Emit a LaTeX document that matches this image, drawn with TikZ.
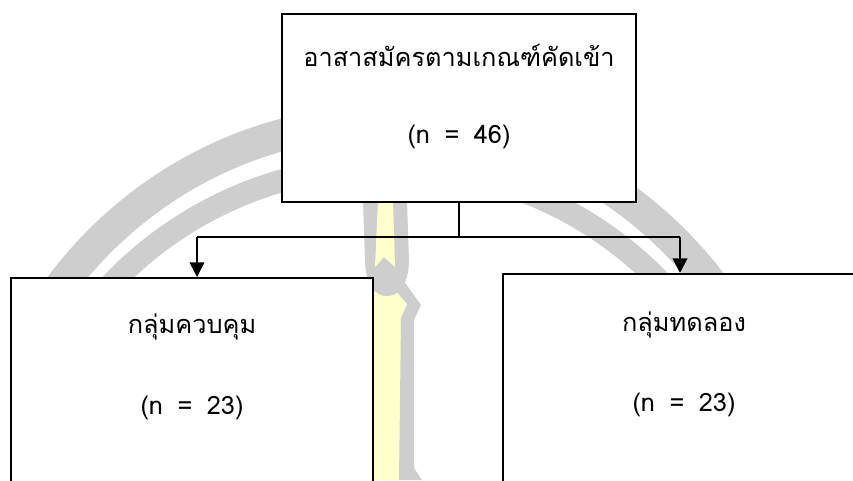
\documentclass[tikz,border=0pt]{standalone}
\usepackage{fontspec}
\setmainfont{Loma}[Script=Thai,WordSpace=1.7]
\usetikzlibrary{arrows.meta}
\definecolor{sealgrey}{RGB}{206,206,206}
\definecolor{torchyellow}{RGB}{255,255,204}

\begin{document}
\begin{tikzpicture}[x=0.75pt,y=0.75pt,yscale=-1,xscale=1,
  box/.style={draw=black,line width=1.5pt,fill=white,inner sep=0pt},
  link/.style={draw=black,line width=1.2pt},
  label/.style={font=\fontsize{19}{23}\selectfont,inner sep=0pt}]
	\clip (0,0) rectangle (853,480); %picture 853 x 480
	
	%seal in the background
	\begin{scope}
	\clip (0,0) rectangle (853,279);
	\draw [color=sealgrey,line width=24pt] (387,545) ellipse [x radius=412, y radius=424];
	\draw [color=sealgrey,line width=17pt] (387,545) ellipse [x radius=380, y radius=379];
	\end{scope}
	\fill [torchyellow] (373,285) -- (397,285) -- (404,302) -- (399,480) -- (373,480) -- cycle;
	\fill [sealgrey] (396,270) -- (421,305) -- (414,320) -- (414,468) -- (422,480) -- (399,480) -- (401,318) -- (407,304) -- (392,286) -- cycle;
	\fill [sealgrey] (363,200) -- (365,262) .. controls (366,285) and (375,296) .. (387,296) .. controls (399,296) and (408,285) .. (409,262) -- (407,200) -- cycle;
	\fill [torchyellow] (378,200) -- (375,267) -- (384,257) -- (395,267) -- (393,200) -- cycle;
	
	%boxes
	\node [box,minimum width=265.5pt,minimum height=141pt] (panel) at (459,108) {};
	\node [box,minimum width=271.5pt,minimum height=195pt] (ctrl) at (192,408) {};
	\node [box,minimum width=271.5pt,minimum height=195pt] (expt) at (684,404) {};
	
	%connectors
	\coordinate (split) at (459,237);
	\coordinate (armL) at (197,237);
	\coordinate (armR) at (680,237);
	\draw [link] (panel.south) -- (split);
	\draw [link] (armL) -- (armR);
	\draw [link,-{Triangle[width=11pt,length=11pt]}] (armL) -- (armL |- ctrl.north);
	\draw [link,-{Triangle[width=11pt,length=11pt]}] (armR) -- (armR |- expt.north);
	
	%texts
	\node [label] (panelTitle) at (459,55) {อาสาสมัครตามเกณฑ์คัดเข้า};
	\node [label] (panelN) at (459,137) {(n = 46)};
	\node [label] (ctrlTitle) at (192,327) {กลุ่มควบคุม};
	\node [label] (ctrlN) at (192,408) {(n = 23)};
	\node [label] (exptTitle) at (684,325) {กลุ่มทดลอง};
	\node [label] (exptN) at (684,405) {(n = 23)};
	
\end{tikzpicture}
\end{document}
